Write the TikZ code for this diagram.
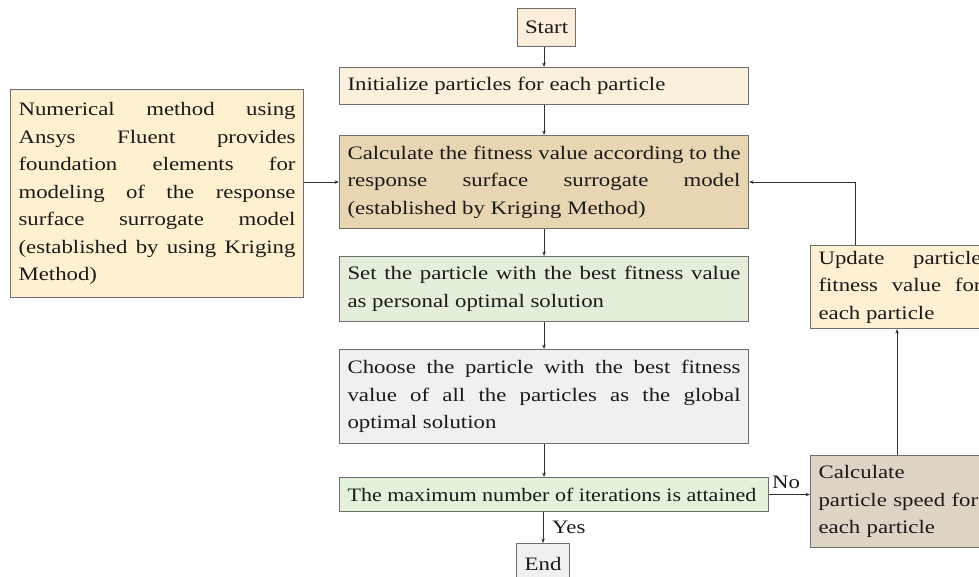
\documentclass[tikz,border=0pt]{standalone}
\usepackage{fontspec}
\setmainfont[FakeStretch=1.2]{Liberation Serif}
\newfontfamily\tightserif[FakeStretch=1.16]{Liberation Serif}
\usetikzlibrary{arrows.meta}

\definecolor{boxline}{HTML}{6E6E6E}
\definecolor{linkline}{HTML}{303030}
\definecolor{inkcol}{HTML}{1A1A1A}
\definecolor{startfill}{HTML}{FCEEDA}
\definecolor{initfill}{HTML}{FBF0DC}
\definecolor{calcfill}{HTML}{E8D6B3}
\definecolor{setfill}{HTML}{E3EFDA}
\definecolor{choosefill}{HTML}{F0F0F0}
\definecolor{maxfill}{HTML}{E4F1DB}
\definecolor{endfill}{HTML}{F0F0F0}
\definecolor{leftfill}{HTML}{FFF1D0}
\definecolor{updatefill}{HTML}{FFF0D3}
\definecolor{speedfill}{HTML}{DDD4C6}

% paragraph settings for the box texts
\newcommand\boxpar{\hyphenpenalty=10000\relax\tolerance=9999\relax\hbadness=10000\relax}

\begin{document}
\begin{tikzpicture}[x=1pt,y=-1pt,
  txt/.style={text=inkcol, font=\fontsize{19}{27.5}\selectfont\boxpar},
  stepbox/.style={txt, draw=boxline, line width=1.1pt, inner xsep=8pt, inner ysep=0pt,
    anchor=north west, align=justify},
  smallbox/.style={txt, draw=boxline, line width=1.1pt, inner xsep=4pt, inner ysep=0pt,
    anchor=north west, align=center},
  link/.style={draw=linkline, line width=0.9pt, -{Stealth[length=4.5pt,width=3.5pt]}},
  tag/.style={txt, inner sep=0pt}]

\useasboundingbox (0,0) rectangle (979,576);
\clip (0,0) rectangle (979,576);

% main column
\node[smallbox, fill=startfill, minimum width=58pt, minimum height=38pt] (start) at (517,8) {Start};

\node[stepbox, fill=initfill, text width=393pt, minimum height=37pt] (init) at (339,67)
  {Initialize particles for each particle};

\node[stepbox, fill=calcfill, text width=393pt, minimum height=93pt] (calc) at (339,135)
  {Calculate the fitness value according to the\linebreak response surface surrogate model\linebreak (established by Kriging Method)};

\node[stepbox, fill=setfill, text width=393pt, minimum height=65pt] (set) at (339,256)
  {Set the particle with the best fitness value\linebreak as personal optimal solution};

\node[stepbox, fill=choosefill, text width=393pt, minimum height=94pt] (choose) at (339,349)
  {Choose the particle with the best fitness\linebreak value of all the particles as the global\linebreak optimal solution};

\node[stepbox, fill=maxfill, text width=413pt, minimum height=34pt, font=\fontsize{19}{27.5}\tightserif\boxpar] (max) at (339,477)
  {The maximum number of iterations is attained};

\node[smallbox, fill=endfill, minimum width=53pt, minimum height=40pt] (end) at (516,543) {End};

% side boxes
\node[stepbox, fill=leftfill, text width=277pt, minimum height=208pt] (model) at (10,89)
  {Numerical method using\linebreak Ansys Fluent provides\linebreak foundation elements for\linebreak modeling of the response\linebreak surface surrogate model\linebreak (established by using Kriging\linebreak Method)};

\node[stepbox, fill=updatefill, text width=163pt, minimum height=83pt] (update) at (810,245)
  {Update particle\linebreak fitness value for\linebreak each particle};

\node[stepbox, fill=speedfill, text width=163pt, minimum height=92pt, align=left] (speed) at (810,455)
  {Calculate\\particle speed for\\each particle};

% loop columns
\coordinate (upx) at (855,0);
\coordinate (fwdx) at (897,0);

% connectors
\draw[link] (start.south -| init.north) -- (init.north);
\draw[link] (init) -- (calc);
\draw[link] (calc) -- (set);
\draw[link] (set) -- (choose);
\draw[link] (choose.south) -- (choose.south |- max.north);
\draw[link] (end.north |- max.south) -- (end.north);
\draw[link] (model.east |- calc.west) -- (calc.west);
\draw[link] (max.east) -- (speed.west |- max.east);
\draw[link] (speed.north -| fwdx) -- (update.south -| fwdx);
\draw[link] (update.north -| upx) |- (calc.east);

% branch labels
\node[tag, anchor=west] (yes) at (552,527) {Yes};
\node[tag] (no) at (786,482) {No};

\end{tikzpicture}
\end{document}
